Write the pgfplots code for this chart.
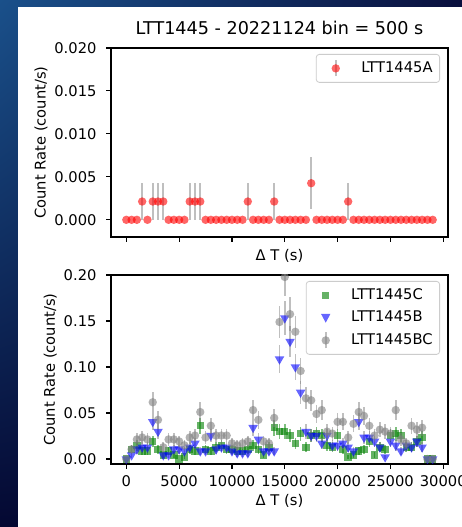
\documentclass[border=0pt]{standalone}
\usepackage{pgfplots}
\pgfplotsset{compat=1.18}
\usepackage{pgfplotstable}
\usetikzlibrary{shadings}
\usepackage{fontspec}
\setmainfont{DejaVu Sans}

\definecolor{slideA}{RGB}{26,80,138}
\definecolor{slideB}{RGB}{10,16,62}
\definecolor{slideC}{RGB}{4,8,50}
\definecolor{slideD}{RGB}{3,4,40}
\definecolor{mplred}{RGB}{255,0,0}
\definecolor{mplblue}{RGB}{0,0,255}
\definecolor{mplgreen}{RGB}{0,128,0}
\definecolor{mplgray}{RGB}{128,128,128}
\definecolor{legframe}{RGB}{204,204,204}

\newcommand\lab{\fontsize{14.7pt}{17pt}\selectfont}
\newcommand\ttl{\fontsize{17.6pt}{21pt}\selectfont}

% light curve of LTT1445A, 500 s bins: time, rate, 1-sigma error
\pgfplotstableread{
t r e
0 0 0
500 0 0
1000 0 0
1500 0.00213 0.00213
2000 0 0
2500 0.00213 0.00213
3000 0.00213 0.00213
3500 0.00213 0.00213
4000 0 0
4500 0 0
5000 0 0
5500 0 0
6000 0.00213 0.00213
6500 0.00213 0.00213
7000 0.00213 0.00213
7500 0 0
8000 0 0
8500 0 0
9000 0 0
9500 0 0
10000 0 0
10500 0 0
11000 0 0
11500 0.00213 0.00213
12000 0 0
12500 0 0
13000 0 0
13500 0 0
14000 0.00213 0.00213
14500 0 0
15000 0 0
15500 0 0
16000 0 0
16500 0 0
17000 0 0
17500 0.00426 0.00301
18000 0 0
18500 0 0
19000 0 0
19500 0 0
20000 0 0
20500 0 0
21000 0.00213 0.00213
21500 0 0
22000 0 0
22500 0 0
23000 0 0
23500 0 0
24000 0 0
24500 0 0
25000 0 0
25500 0 0
26000 0 0
26500 0 0
27000 0 0
27500 0 0
28000 0 0
28500 0 0
29000 0 0
}\tabA

% LTT1445C
\pgfplotstableread{
t r e
0 0 0
500 0.01064 0.00476
1000 0.01489 0.00563
1500 0.00851 0.00426
2000 0.00851 0.00426
2500 0.01915 0.00638
3000 0.01064 0.00476
3500 0.00426 0.00301
4000 0.00851 0.00426
4500 0.00426 0.00301
5000 0 0
5500 0.00213 0.00213
6000 0.01064 0.00476
6500 0.00851 0.00426
7000 0.03617 0.00877
7500 0.01064 0.00476
8000 0.00851 0.00426
8500 0.01277 0.00521
9000 0.01489 0.00563
9500 0.01064 0.00476
10000 0.01064 0.00476
10500 0.00851 0.00426
11000 0.00851 0.00426
11500 0.01064 0.00476
12000 0.01489 0.00563
12500 0.01064 0.00476
13000 0.00426 0.00301
13500 0.01277 0.00521
14000 0.03404 0.00851
14500 0.02979 0.00796
15000 0.02979 0.00796
15500 0.02553 0.00737
16000 0.01702 0.00602
16500 0.02766 0.00767
17000 0.01277 0.00521
17500 0.02553 0.00737
18000 0.02766 0.00767
18500 0.02553 0.00737
19000 0.01489 0.00563
19500 0.01277 0.00521
20000 0.02553 0.00737
20500 0.01064 0.00476
21000 0.00213 0.00213
21500 0.00426 0.00301
22000 0.00851 0.00426
22500 0.01064 0.00476
23000 0.01915 0.00638
23500 0.00426 0.00301
24000 0.01277 0.00521
24500 0.01064 0.00476
25000 0.02553 0.00737
25500 0.02766 0.00767
26000 0.02553 0.00737
26500 0.01277 0.00521
27000 0.01277 0.00521
27500 0.01915 0.00638
28000 0.02340 0.00706
28500 0 0
29000 0 0
}\tabC

% LTT1445B
\pgfplotstableread{
t r e
0 0 0
500 0.00426 0.00301
1000 0.01064 0.00476
1500 0.01277 0.00521
2000 0.01277 0.00521
2500 0.04043 0.00927
3000 0.02979 0.00796
3500 0.00426 0.00301
4000 0.00426 0.00301
4500 0.01064 0.00476
5000 0.01064 0.00476
5500 0.00851 0.00426
6000 0.01277 0.00521
6500 0.01702 0.00602
7000 0.00851 0.00426
7500 0.00851 0.00426
8000 0.02553 0.00737
8500 0.01064 0.00476
9000 0.01277 0.00521
9500 0.01277 0.00521
10000 0.00851 0.00426
10500 0.00638 0.00369
11000 0.00638 0.00369
11500 0.00638 0.00369
12000 0.03404 0.00851
12500 0.02128 0.00673
13000 0.00851 0.00426
13500 0.00851 0.00426
14000 0.00851 0.00426
14500 0.10851 0.01519
15000 0.15319 0.01805
15500 0.12766 0.01648
16000 0.10000 0.01459
16500 0.07234 0.01241
17000 0.02979 0.00796
17500 0.02553 0.00737
18000 0.02553 0.00737
18500 0.01702 0.00602
19000 0.02553 0.00737
19500 0.01489 0.00563
20000 0.01489 0.00563
20500 0.01702 0.00602
21000 0.01277 0.00521
21500 0.00851 0.00426
22000 0.04043 0.00927
22500 0.02340 0.00706
23000 0.02340 0.00706
23500 0.01915 0.00638
24000 0.01277 0.00521
24500 0.00213 0.00213
25000 0.01915 0.00638
25500 0.01489 0.00563
26000 0.00851 0.00426
26500 0.01489 0.00563
27000 0.01277 0.00521
27500 0.01915 0.00638
28000 0.01277 0.00521
28500 0 0
29000 0 0
}\tabB

% LTT1445BC (unresolved pair)
\pgfplotstableread{
t r e
0 0 0
500 0.01064 0.00476
1000 0.02128 0.00673
1500 0.02340 0.00706
2000 0.02128 0.00673
2500 0.06170 0.01146
3000 0.04255 0.00952
3500 0.01277 0.00521
4000 0.02128 0.00673
4500 0.02128 0.00673
5000 0.01915 0.00638
5500 0.01489 0.00563
6000 0.02340 0.00706
6500 0.02553 0.00737
7000 0.05106 0.01042
7500 0.02340 0.00706
8000 0.03617 0.00877
8500 0.02553 0.00737
9000 0.02553 0.00737
9500 0.02553 0.00737
10000 0.01702 0.00602
10500 0.01489 0.00563
11000 0.01702 0.00602
11500 0.01915 0.00638
12000 0.05319 0.01064
12500 0.04255 0.00952
13000 0.01915 0.00638
13500 0.01702 0.00602
14000 0.04468 0.00975
14500 0.14894 0.01780
15000 0.19787 0.02052
15500 0.15745 0.01830
16000 0.13830 0.01715
16500 0.09574 0.01427
17000 0.06596 0.01185
17500 0.06383 0.01165
18000 0.04894 0.01020
18500 0.05319 0.01064
19000 0.02979 0.00796
19500 0.02766 0.00767
20000 0.04043 0.00927
20500 0.04043 0.00927
21000 0.02340 0.00706
21500 0.03830 0.00903
22000 0.05106 0.01042
22500 0.04681 0.00998
23000 0.03617 0.00877
23500 0.02553 0.00737
24000 0.03191 0.00824
24500 0.02979 0.00796
25000 0.02766 0.00767
25500 0.05319 0.01064
26000 0.02128 0.00673
26500 0.01702 0.00602
27000 0.03617 0.00877
27500 0.03191 0.00824
28000 0.03404 0.00851
28500 0 0
29000 0 0
}\tabBC

% translucent, outline-free plot marks
\tikzset{dot/.style={fill=#1, fill opacity=0.6, draw opacity=0}}

\pgfplotsset{
  lcpanel/.style={
    scale only axis, width=337pt, height=189pt,
    xmin=-1450, xmax=30450,
    xtick={0,5000,...,30000},
    axis line style={line width=1.1pt},
    tick align=outside, xtick pos=bottom, ytick pos=left,
    major tick length=5pt,
    every tick/.style={black, line width=1.1pt},
    tick label style={font=\lab},
    label style={font=\lab},
    /pgf/number format/assume math mode=true,
    scaled ticks=false,
    xticklabel style={/pgf/number format/fixed, /pgf/number format/1000 sep={}, yshift=-3pt},
    yticklabel style={xshift=-6pt},
    ylabel={Count Rate (count/s)},
    xlabel={Δ T (s)},
    clip marker paths=true,
    legend cell align=left,
    legend style={at={(rel axis cs:1,1)}, anchor=north east, xshift=-8pt, yshift=-6pt,
      draw=legframe, line width=0.8pt, rounded corners=3pt,
      fill=white, fill opacity=0.8, text opacity=1, draw opacity=1,
      font=\lab, inner xsep=5pt, inner ysep=5pt, row sep=4.5pt,
      nodes={inner sep=2pt, text height=11pt, text depth=3pt},
      /tikz/every odd column/.append style={column sep=9pt}},
  },
  errbars/.style={
    error bars/y dir=both, error bars/y explicit, error bars/error mark=none,
    error bars/error bar style={#1, line width=1.6pt, opacity=0.5}},
}

\begin{document}
\begin{tikzpicture}[x=1pt,y=1pt]
\useasboundingbox (0,0) rectangle (462,527);
% slide backdrop
\shade[upper left=slideA, upper right=slideB, lower left=slideC, lower right=slideD]
  (0,0) rectangle (462,527);
\fill[white] (18,0) rectangle (462,520);

% upper panel: LTT1445A
\begin{axis}[lcpanel,
  at={(111pt,290pt)}, anchor=south west,
  ymin=-0.002, ymax=0.020,
  ytick={0,0.005,0.010,0.015,0.020},
  yticklabel style={/pgf/number format/fixed, /pgf/number format/precision=3, /pgf/number format/fixed zerofill},
  xticklabels={},
  xlabel style={at={(rel axis cs:0.5,0)}, anchor=center, yshift=-19pt},
  title={LTT1445 - 20221124 bin = 500 s},
  title style={font=\ttl, at={(rel axis cs:0.5,1)}, anchor=center, yshift=14.5pt},
]
\addplot[only marks, mark=*, mark size=4.2pt,
  mark options={dot=mplred}, errbars=mplgray,
  legend image code/.code={
    \path[draw=none, fill=none] (0pt,-8pt) rectangle (29pt,8pt);
    \draw[mplgray, opacity=0.5, line width=1.6pt] (14.5pt,-8pt) -- (14.5pt,8pt);
    \fill[draw=none, mplred, opacity=0.6] (14.5pt,0pt) circle (4.2pt);}]
  table[x=t, y=r, y error=e] {\tabA};
\addlegendentry{LTT1445A}
\end{axis}

% lower panel: LTT1445C, LTT1445B and the combined BC light curve
\begin{axis}[lcpanel,
  at={(111pt,63pt)}, anchor=south west,
  ymin=-0.0054, ymax=0.20,
  ytick={0,0.05,0.10,0.15,0.20},
  yticklabel style={/pgf/number format/fixed, /pgf/number format/precision=2, /pgf/number format/fixed zerofill},
  xlabel style={at={(rel axis cs:0.5,0)}, anchor=center, yshift=-36.5pt},
]
\addplot[only marks, mark=square*, mark size=3.7pt,
  mark options={dot=mplgreen}, errbars=mplgreen,
  legend image code/.code={
    \path[draw=none, fill=none] (0pt,-8pt) rectangle (29pt,8pt);
    \fill[draw=none, sharp corners, mplgreen, opacity=0.6] (10.8pt,-3.7pt) rectangle (18.2pt,3.7pt);}]
  table[x=t, y=r, y error=e] {\tabC};
\addlegendentry{LTT1445C}
\addplot[only marks, mark=triangle*, mark size=5.5pt,
  mark options={dot=mplblue, rotate=180}, errbars=mplgray,
  legend image code/.code={
    \path[draw=none, fill=none] (0pt,-8pt) rectangle (29pt,8pt);
    \fill[draw=none, sharp corners, mplblue, opacity=0.6] (9.8pt,4pt) -- (19.2pt,4pt) -- (14.5pt,-4.8pt) -- cycle;}]
  table[x=t, y=r, y error=e] {\tabB};
\addlegendentry{LTT1445B}
\addplot[only marks, mark=*, mark size=4.2pt,
  mark options={dot=mplgray}, errbars=mplgray,
  legend image code/.code={
    \path[draw=none, fill=none] (0pt,-8pt) rectangle (29pt,8pt);
    \draw[mplgray, opacity=0.5, line width=1.6pt] (14.5pt,-8pt) -- (14.5pt,8pt);
    \fill[draw=none, mplgray, opacity=0.6] (14.5pt,0pt) circle (4.2pt);}]
  table[x=t, y=r, y error=e] {\tabBC};
\addlegendentry{LTT1445BC}
\end{axis}
\end{tikzpicture}
\end{document}
